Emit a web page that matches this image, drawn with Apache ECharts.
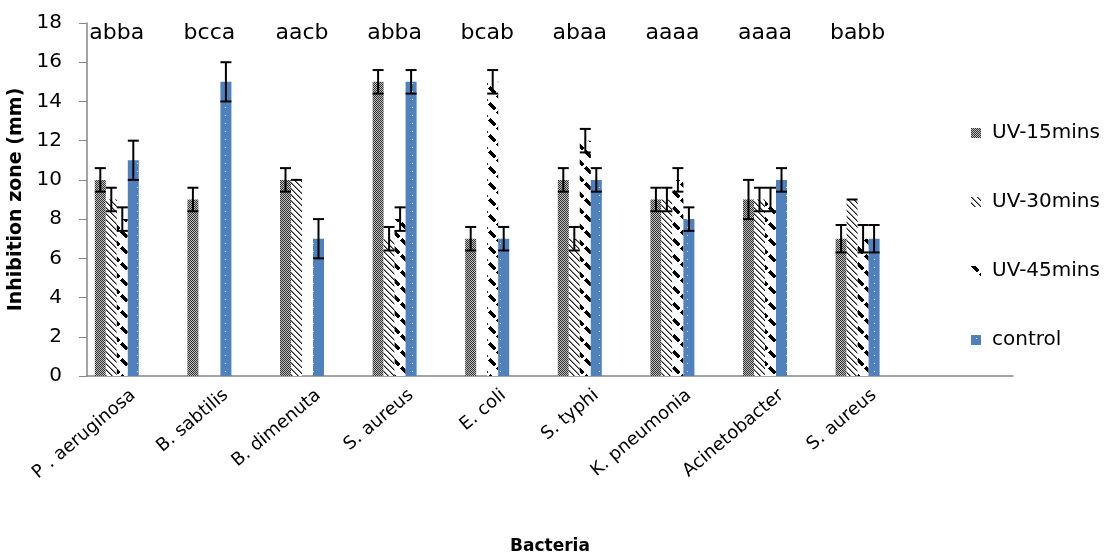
<!DOCTYPE html>
<html>
<head>
<meta charset="utf-8">
<script src="https://cdn.jsdelivr.net/npm/echarts@6/dist/echarts.min.js"></script>
<style>
html,body{margin:0;padding:0;background:#fff;}
#chart{width:1113px;height:558px;}
</style>
</head>
<body>
<div id="chart"></div>
<script>
// ---- data ----
const categories = ['P . aeruginosa', 'B. sabtilis', 'B. dimenuta', 'S. aureus', 'E. coli', 'S. typhi', 'K. pneumonia', 'Acinetobacter', 'S. aureus', ''];
const seriesNames = ['UV-15mins', 'UV-30mins', 'UV-45mins', 'control'];
const uv15 = [10, 9, 10, 15, 7, 10, 9, 9, 7];
const uv30 = [9, 0, 10, 7, 0, 7, 9, 9, 9];
const uv45 = [8, 0, 0, 8, 15, 12, 10, 9, 7];
const control = [11, 15, 7, 15, 7, 10, 8, 10, 7];
const uv15Err = [0.6, 0.6, 0.6, 0.6, 0.6, 0.6, 0.6, 1, 0.7];
const uv30Err = [0.6, 0, 0, 0.6, 0, 0.6, 0.6, 0.6, 0];
const uv45Err = [0.6, 0, 0, 0.6, 0.6, 0.6, 0.6, 0.6, 0.7];
const controlErr = [1, 1, 1, 0.6, 0.6, 0.6, 0.6, 0.6, 0.7];
const letters = ['abba', 'bcca', 'aacb', 'abba', 'bcab', 'abaa', 'aaaa', 'aaaa', 'babb'];
const yTicks = [0, 2, 4, 6, 8, 10, 12, 14, 16, 18];

// ---- styles ----
const FONT = '"DejaVu Sans", sans-serif';
const BAR_W = 11;
const N_SLOTS = 7; // 4 visible series + 3 empty slots (as in the original layout)
const LETTER_Y = 17.5;

function makePattern(w, h, fn) {
  const c = document.createElement('canvas');
  c.width = w; c.height = h;
  const ctx = c.getContext('2d');
  for (let y = 0; y < h; y++) {
    for (let x = 0; x < w; x++) {
      const col = fn(x, y);
      if (col) { ctx.fillStyle = col; ctx.fillRect(x, y, 1, 1); }
    }
  }
  return { image: c, repeat: 'repeat' };
}
const mod = (a, n) => ((a % n) + n) % n;
const pat15 = makePattern(2, 2, (x, y) => ((x + y) % 2 === 0 ? '#333333' : '#bdbdbd'));
const pat30 = makePattern(6, 6, (x, y) => {
  const d = mod(x - y, 6);
  return d === 0 ? '#222' : (d === 1 ? '#888' : '#ffffff');
});
const pat45 = makePattern(16, 16, (x, y) => {
  const u = mod(x - y, 16), v = mod(x + y, 16);
  return (u < 5 && v < 12) ? '#000' : '#ffffff';
});
const patCtl = makePattern(11, 8, (x, y) => ((x === 5 && y === 3) ? '#dbe5f3' : '#4f81bd'));
const patterns = [pat15, pat30, pat45, patCtl];
const values = [uv15, uv30, uv45, control];
const errs = [uv15Err, uv30Err, uv45Err, controlErr];

const slotOffset = i => (i - (N_SLOTS - 1) / 2) * BAR_W;

const series = [];
seriesNames.forEach((name, i) => {
  series.push({
    name: name, type: 'bar', data: values[i], barWidth: BAR_W, barGap: '0%',
    itemStyle: { color: patterns[i] }, z: 2
  });
});
for (let k = 0; k < N_SLOTS - 4; k++) {
  series.push({ name: 'empty' + k, type: 'bar', data: [], barWidth: BAR_W, barGap: '0%' });
}
seriesNames.forEach((name, i) => {
  series.push({
    name: 'err' + i, type: 'custom', z: 5,
    data: values[i].map((v, j) => [j, v, errs[i][j]]),
    encode: { x: 0, y: 1 },
    renderItem: function (params, api) {
      const idx = api.value(0), v = api.value(1), e = api.value(2);
      if (!v) return null;
      const x = api.coord([idx, v])[0] + slotOffset(i);
      const yt = api.coord([idx, v + e])[1];
      const yb = api.coord([idx, v - e])[1];
      const half = BAR_W / 2;
      const st = { stroke: '#000', lineWidth: 2 };
      const children = [
        { type: 'line', shape: { x1: x - half, y1: yt, x2: x + half, y2: yt }, style: st }
      ];
      if (e > 0) {
        children.push({ type: 'line', shape: { x1: x, y1: yt, x2: x, y2: yb }, style: st });
        children.push({ type: 'line', shape: { x1: x - half, y1: yb, x2: x + half, y2: yb }, style: st });
      }
      return { type: 'group', children: children };
    }
  });
});
series.push({
  name: 'letters', type: 'custom', z: 6,
  data: letters.map((t, j) => [j, LETTER_Y]),
  encode: { x: 0, y: 1 },
  renderItem: function (params, api) {
    const idx = api.value(0);
    const p = api.coord([idx, LETTER_Y]);
    const groupCenter = (slotOffset(0) + slotOffset(3)) / 2;
    return {
      type: 'text',
      style: { text: letters[idx], x: p[0] + groupCenter, y: p[1], align: 'center', verticalAlign: 'middle',
        font: '22px ' + FONT, fill: '#000' }
    };
  }
});

const chart = echarts.init(document.getElementById('chart'), null, { renderer: 'canvas' });
chart.setOption({
  animation: false,
  backgroundColor: '#fff',
  grid: { left: 87, right: 100, top: 23, bottom: 182, containLabel: false, outerBoundsMode: 'none' },
  legend: {
    data: seriesNames, orient: 'vertical', left: 966, top: 118, itemGap: 49,
    itemWidth: 10, itemHeight: 10, icon: 'rect',
    textStyle: { fontFamily: FONT, fontSize: 20, lineHeight: 20, color: '#000', padding: [0, 0, 0, 6] }
  },
  xAxis: {
    type: 'category', data: categories,
    axisLine: { show: true, lineStyle: { color: '#868686', width: 1.5 } },
    axisTick: { show: false },
    axisLabel: { interval: 0, rotate: 40, fontFamily: FONT, fontSize: 18, color: '#000', margin: 17 },
    name: 'Bacteria', nameLocation: 'middle', nameGap: 162,
    nameTextStyle: { fontFamily: FONT, fontSize: 17, fontWeight: 'bold', color: '#000' }
  },
  yAxis: {
    type: 'value', min: yTicks[0], max: yTicks[yTicks.length - 1], interval: 2,
    axisLine: { show: true, lineStyle: { color: '#868686', width: 1.5 } },
    axisTick: { show: true, length: 8, lineStyle: { color: '#868686' } },
    splitLine: { show: false },
    axisLabel: { fontFamily: FONT, fontSize: 20, color: '#000', margin: 25 },
    name: 'Inhibition zone (mm)', nameLocation: 'middle', nameGap: 52,
    nameTextStyle: { fontFamily: FONT, fontSize: 19, fontWeight: 'bold', color: '#000' }
  },
  series: series
});
</script>
</body>
</html>
